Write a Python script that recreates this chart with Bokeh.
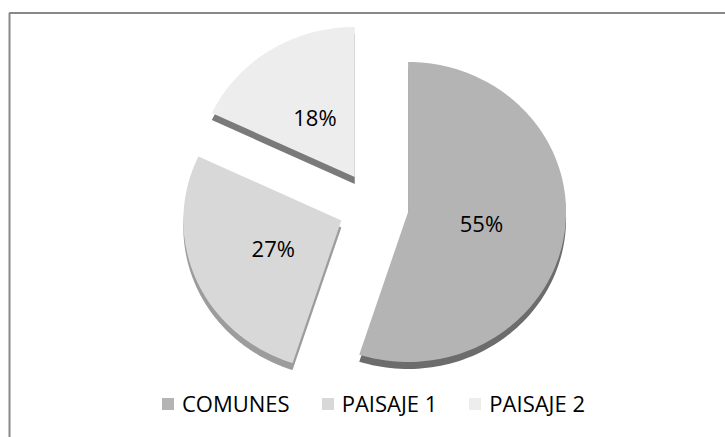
import numpy as np
from bokeh.plotting import figure
from bokeh.models import Range1d, ColumnDataSource, Legend, LegendItem
from bokeh.core.properties import value
from bokeh.embed import file_html
from bokeh.resources import INLINE

# ---- data ----
categories = ["COMUNES", "PAISAJE 1", "PAISAJE 2"]
shares = [55, 27, 18]
labels = ["55%", "27%", "18%"]

# ---- styles ----
face_colors = ["#b4b4b4", "#d8d8d8", "#ededed"]
side_colors = ["#6c6c6c", "#9c9c9c", "#7a7a7a"]

W, H = 725, 437
p = figure(width=W, height=H, output_backend="svg", toolbar_location=None,
           x_range=Range1d(0, W), y_range=Range1d(0, H), min_border=0)
p.axis.visible = False
p.grid.visible = False
p.outline_line_color = None
p.background_fill_color = "white"

# chart border (top and left visible)
p.quad(left=[9], right=[W + 20], bottom=[-20], top=[H - 12.5],
       fill_color=None, line_color="#888888", line_width=2)

cx, cy = 373.0, 231.0
rx, ry = 158.0, 150.0
explode = 35.0
depth = 7.0

total = float(sum(shares))
fracs = np.array(shares) / total
ends = np.cumsum(fracs) * 2 * np.pi
starts = ends - fracs * 2 * np.pi

face_xs, face_ys, side_xs, side_ys, lab_x, lab_y = [], [], [], [], [], []
for a0, a1 in zip(starts, ends):
    mid = 0.5 * (a0 + a1)
    ax = cx + explode * np.sin(mid)
    ay = cy + explode * np.cos(mid)
    t = np.linspace(a0, a1, 120)
    xs = np.concatenate([[ax], ax + rx * np.sin(t)])
    ys = np.concatenate([[ay], ay + ry * np.cos(t)])
    face_xs.append(list(xs)); face_ys.append(list(ys))
    side_xs.append(list(xs)); side_ys.append(list(ys - depth))
    lab_x.append(ax + 0.47 * rx * np.sin(mid))
    lab_y.append(ay + 0.47 * ry * np.cos(mid))

p.patches(xs=side_xs, ys=side_ys, fill_color=side_colors, line_color=None)
renderers = []
for i in range(len(categories)):
    r = p.patch(x=face_xs[i], y=face_ys[i], fill_color=face_colors[i], line_color=None)
    renderers.append(r)

src = ColumnDataSource(dict(x=lab_x, y=lab_y, t=labels))
p.text(x="x", y="y", text="t", source=src, text_align="center", text_baseline="middle",
       text_font=value("Open Sans"), text_font_size="22px", text_color="black")

legend = Legend(items=[LegendItem(label=c, renderers=[r]) for c, r in zip(categories, renderers)],
                orientation="horizontal", location=(160, 19),
                glyph_width=15, glyph_height=15, label_standoff=7, spacing=30,
                label_text_font="Open Sans", label_text_font_size="22px",
                label_text_color="black", padding=0, margin=0,
                border_line_color=None, background_fill_alpha=0)
p.add_layout(legend, "center")

open("out.html", "w").write(file_html(p, INLINE))
